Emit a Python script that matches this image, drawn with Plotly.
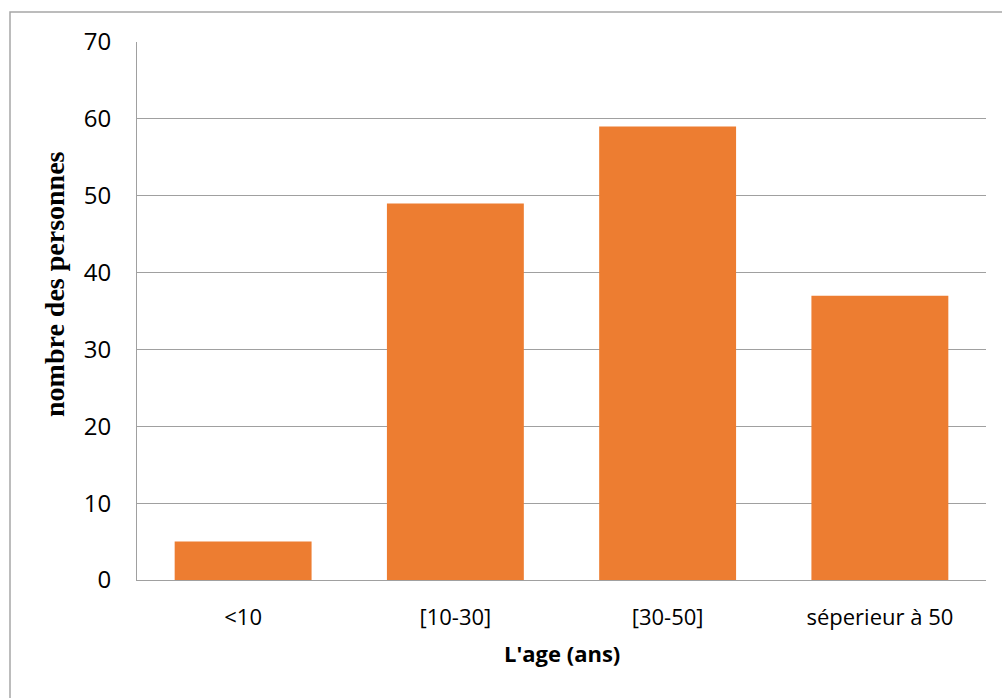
import plotly.graph_objects as go

# Age groups and number of people in each
categories = ["<10", "[10-30]", "[30-50]", "séperieur à 50"]
counts = [5, 49, 59, 37]
y_ticks = [0, 10, 20, 30, 40, 50, 60, 70]

W, H = 1002, 698
L, R, T, B = 137, 16, 42, 118
pw, ph = W - L - R, H - T - B

def px_x(px):
    return (px - L) / pw

def px_y(py):
    return (H - B - py) / ph

fig = go.Figure(
    go.Bar(
        x=categories,
        y=counts,
        marker=dict(color="#ED7D31", line=dict(width=0)),
        width=0.645,
        hoverinfo="x+y",
    )
)

sans = "Open Sans, Noto Sans, sans-serif"
grid = "#a0a0a0"

fig.update_layout(
    width=W,
    height=H,
    margin=dict(l=L, r=R, t=T, b=B),
    paper_bgcolor="white",
    plot_bgcolor="white",
    showlegend=False,
    bargap=0.355,
    xaxis=dict(
        type="category",
        tickfont=dict(family=sans, size=22, color="#000000"),
        showgrid=False,
        showline=True,
        linecolor=grid,
        linewidth=1,
        ticks="",
        ticklabelstandoff=18,
        range=[-0.5, 3.5],
    ),
    yaxis=dict(
        range=[0, 70],
        tickvals=y_ticks,
        tickfont=dict(family=sans, size=24, color="#000000"),
        showgrid=True,
        gridcolor=grid,
        gridwidth=1,
        showline=True,
        linecolor=grid,
        linewidth=1,
        zeroline=False,
        ticks="",
        ticklabelstandoff=20,
    ),
    shapes=[
        dict(
            type="rect",
            xref="paper",
            yref="paper",
            x0=px_x(10),
            x1=px_x(1010),
            y0=px_y(710),
            y1=px_y(12),
            line=dict(color="#a6a6a6", width=1.5),
            fillcolor="rgba(0,0,0,0)",
            layer="below",
        )
    ],
    annotations=[
        dict(
            text="<b>L'age (ans)</b>",
            xref="paper",
            yref="paper",
            x=0.5,
            y=px_y(653),
            xanchor="center",
            yanchor="middle",
            showarrow=False,
            font=dict(family=sans, size=22, color="#000000"),
        ),
        dict(
            text="<b>nombre des personnes</b>",
            xref="paper",
            yref="paper",
            x=px_x(54),
            y=px_y(284),
            xanchor="center",
            yanchor="middle",
            textangle=-90,
            showarrow=False,
            font=dict(family="Liberation Serif, Times New Roman, serif", size=28, color="#000000"),
        ),
    ],
)

fig.write_html("out.html")
